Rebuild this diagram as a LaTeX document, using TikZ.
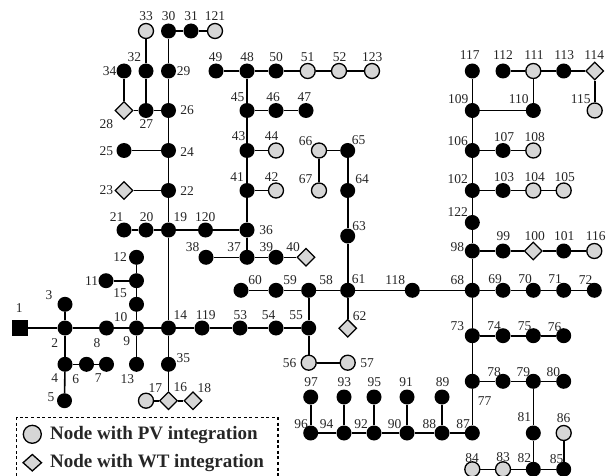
\documentclass[tikz,border=0pt]{standalone}
\usepackage{fontspec}
\setmainfont{Liberation Serif}
\usepackage{tikz}
\usetikzlibrary{shapes.geometric}

\begin{document}
\begin{tikzpicture}[
  x=1pt, y=-1pt,
  bus/.style={circle, fill=black, inner sep=0pt, minimum size=15pt},
  pv/.style={circle, draw, fill=black!16, line width=1.3pt, inner sep=0pt,
    minimum size=15pt},
  wt/.style={diamond, draw, fill=black!16, line width=1.3pt, inner sep=0pt,
    aspect=1, minimum width=18pt, minimum height=18pt},
  slack/.style={rectangle, fill=black, inner sep=0pt, minimum size=16pt},
  lab/.style={font=\fontsize{13.5}{13.5}\selectfont, inner sep=0pt, text=black!85},
  legtxt/.style={font=\fontsize{19}{19}\selectfont\bfseries, inner sep=0pt,
    anchor=west, text=black!85},
  line/.style={line width=1.6pt},
]
  \useasboundingbox (0,0) rectangle (608,476);
  \node[slack] (n1) at (20,328) {};
  % plain buses
  \foreach \id/\px/\py in {2/65/328, 3/65/304.3, 4/65/364.3, 5/64.5/400.7, 6/86.5/364.3,
    7/106.5/364.3, 8/106.5/328, 9/136.5/328, 10/136.5/304.3, 15/136.5/280.7, 12/136.5/257.3,
    11/106/280.7, 13/136.5/364.3, 14/168.5/328, 35/168.5/364.3, 19/168.5/230, 20/146/230,
    21/124/230, 22/168.5/190.5, 24/168.5/150.5, 25/124/150.5, 26/168.5/110.5, 27/146/110.5,
    32/146/71, 34/124/71, 29/168.5/71, 30/168.5/31, 31/191/31, 120/205.5/230, 36/247/230,
    37/247/257.3, 38/206/257.3, 39/276/257.3, 41/247/190.5, 43/247/150.5, 45/247/110.5,
    46/276/110.5, 47/306/110.5, 48/247/71, 49/216/71, 50/276/71, 119/202/328, 53/240/328,
    54/276/328, 55/308.7/328, 58/308.7/290.3, 59/276/290.3, 60/241/290.3, 61/347.7/290.3,
    63/347.7/236, 64/347.7/190.5, 65/347.7/150.5, 118/412.3/290.3, 68/472.3/290.3,
    69/503/290.3, 70/533.3/290.3, 71/563.7/290.3, 72/594.3/290.3, 73/472.3/335.7,
    74/503/335.7, 75/533.3/335.7, 76/563.7/335.7, 77/472.3/381.3, 78/503/381.3,
    79/533.3/381.3, 80/563.7/381.3, 81/533.3/433, 82/533.3/469.3, 85/563.7/469.3,
    87/472.3/433, 88/442/433, 89/442/397, 90/407/433, 91/407/397, 92/374/433, 95/374/397,
    94/344/433, 93/344/397, 96/310.7/433, 97/310.7/397, 98/472.3/251, 99/503/251,
    101/563.7/251, 122/472.3/222.5, 102/472.3/190.5, 103/503/190.5, 106/472.3/150.5,
    107/503/150.5, 109/472.3/110.5, 110/533.3/110.5, 117/472.3/71, 112/503/71, 113/563.7/71}
    \node[bus] (n\id) at (\px,\py) {};
  % PV buses
  \foreach \id/\px/\py in {33/146/31, 121/215/31, 42/276/190.5, 44/276/150.5, 17/146/400.7,
    51/307.7/71, 52/339/71, 123/372/71, 56/308.7/362.7, 57/347.7/362.7, 66/319/150.5,
    67/319/190.5, 83/503/469.3, 84/472.3/469.3, 86/563.7/433, 104/533.3/190.5,
    105/563.7/190.5, 108/533.3/150.5, 111/533.3/71, 115/594.7/110.5, 116/594.3/251}
    \node[pv] (n\id) at (\px,\py) {};
  % WT buses
  \foreach \id/\px/\py in {16/168.5/400.7, 18/193/400.7, 23/124/190.5, 28/124/110.5,
    40/306/257.3, 62/347.7/328.3, 100/533.3/251, 114/594.7/71}
    \node[wt] (n\id) at (\px,\py) {};
  % branches
  \foreach \a/\b in {1/2, 2/3, 2/4, 4/5, 4/6, 6/7, 2/8, 8/9, 9/10, 10/15, 15/12, 15/11, 9/13,
    9/14, 14/19, 14/35, 35/16, 16/17, 16/18, 14/119, 119/53, 53/54, 54/55, 19/20, 20/21,
    19/22, 22/23, 22/24, 24/25, 24/26, 26/27, 27/28, 28/34, 27/32, 32/33, 26/29, 29/30,
    30/31, 31/121, 19/120, 120/36, 36/37, 37/38, 37/39, 39/40, 36/41, 41/42, 41/43, 43/44,
    43/45, 45/46, 46/47, 45/48, 48/49, 48/50, 50/51, 51/52, 52/123, 55/58, 55/56, 56/57,
    58/59, 59/60, 58/61, 61/62, 61/63, 63/64, 64/65, 65/66, 66/67, 61/118, 118/68, 68/69,
    69/70, 70/71, 71/72, 68/73, 73/74, 74/75, 75/76, 73/77, 77/78, 78/79, 79/80, 79/81,
    81/82, 82/83, 83/84, 82/85, 85/86, 77/87, 87/88, 88/89, 88/90, 90/91, 90/92, 92/95,
    92/94, 94/93, 94/96, 96/97, 68/98, 98/99, 99/100, 100/101, 101/116, 98/122, 122/102,
    102/103, 103/104, 104/105, 102/106, 106/107, 107/108, 106/109, 109/117, 109/110,
    110/111, 111/112, 111/113, 113/114, 114/115}
    \draw[line] (n\a) -- (n\b);
  % bus numbers
  \foreach \id/\px/\py in {1/19.3/308.3, 2/54.7/342.7, 3/49/295.3, 4/54.7/377.7, 5/51/397,
    6/75.7/378.7, 7/98.3/378.3, 8/97/342.7, 9/126.7/341.3, 10/120.7/317.3, 11/91.7/281,
    12/120/257.3, 13/127.3/378.7, 14/180.3/315.3, 15/120/292.7, 16/180.3/387.3, 17/155.3/388,
    18/204.3/388, 19/180.3/217.3, 20/146.7/217.3, 21/116.7/217.3, 22/187/191, 23/106.3/190.3,
    24/187/151.7, 25/106.3/150.7, 26/187/110.3, 27/146.3/124.3, 28/106.3/124.3, 29/183.7/71.3,
    30/168.7/16, 31/191/16, 32/134.3/57.3, 33/146/16, 34/109.7/71.3, 35/183.3/357.7,
    36/266/230.3, 37/234/247.3, 38/192.7/247.3, 39/266.3/247.3, 40/293/247.3, 41/237/176.7,
    42/271.7/176.7, 43/238.7/135.7, 44/271.7/135.7, 45/237.7/97.3, 46/273/97.3, 47/304.3/97.3,
    48/247/56.7, 49/215.7/56.7, 50/276/56.7, 51/307.5/56.7, 52/339.7/56.7, 53/240.3/314.7,
    54/268.7/314.7, 55/296/314.7, 56/289.7/363, 57/367/363.3, 58/326/280.3, 59/290/280.3,
    60/255/280.3, 61/358.7/278.7, 62/359.7/316.3, 63/359/225.7, 64/362/178.7, 65/358.7/140.3,
    66/305.5/141.3, 67/305.5/179.3, 68/457.3/280.3, 69/495/279.3, 70/525/279.3, 71/555/279.3,
    72/585.7/280, 73/457.3/326.3, 74/494/326.3, 75/524.7/326.3, 76/554.7/327, 77/484.7/401.3,
    78/494/372.3, 79/523.3/372.3, 80/553.3/372.3, 81/524.3/417.3, 82/524.3/458, 83/503/457,
    84/472/458, 85/556.7/459.3, 86/563.7/418.3, 87/463/423.7, 88/429.3/423.7, 89/442.7/382.3,
    90/394.7/423.7, 91/406/382.3, 92/361/423.7, 93/344.3/382.3, 94/326.7/423.7, 95/374.3/382.3,
    96/301/423.7, 97/311/382.3, 98/457.3/247.3, 99/503.3/236, 100/534.7/236, 101/564.3/236,
    102/457.7/178.7, 103/504/176.7, 104/534.7/176.7, 105/564.7/176.7, 106/457.7/140.7,
    107/504/136.7, 108/534.7/136.7, 109/458.3/98.7, 110/518.7/98.7, 111/534/55.3,
    112/503/55.3, 113/564.3/55.3, 114/594.3/55.3, 115/580.7/98.7, 116/595.7/236,
    117/469.7/55.3, 118/395.3/280.3, 119/205.7/315.3, 120/205.3/217.3, 121/215/16,
    122/457.7/212.3, 123/372.3/56.7}
    \node[lab] (l\id) at (\px,\py) {\id};
  % legend
  \coordinate (leg1) at (16.5,476);
  \coordinate (leg2) at (16.5,417.7);
  \coordinate (leg3) at (278,417.7);
  \coordinate (leg4) at (278,476);
  \draw[line, line width=1.3pt, dash pattern=on 3pt off 2.6pt] (leg1) -- (leg2) -- (leg3) -- (leg4);
  \node[pv, minimum size=18pt] (legpv) at (32.3,434.3) {};
  \node[wt, minimum width=19pt, minimum height=17pt] (legwt) at (32.3,462.7) {};
  \node[legtxt] (legpvt) at (50,435) {Node with PV integration};
  \node[legtxt] (legwtt) at (50,463) {Node with WT integration};
\end{tikzpicture}
\end{document}
